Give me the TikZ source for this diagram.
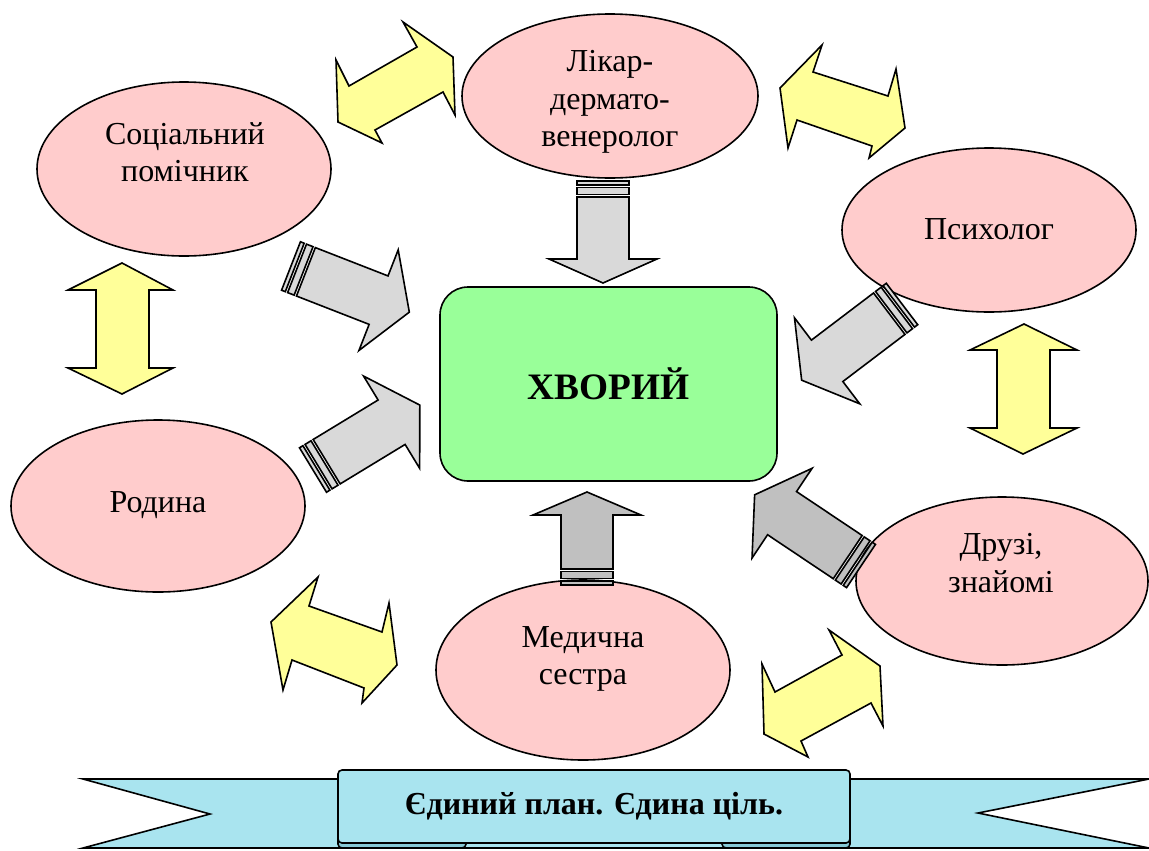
\documentclass[tikz,border=0pt]{standalone}
\usepackage{fontspec}
\setmainfont{Liberation Serif}
\usetikzlibrary{shapes.geometric}

\definecolor{ellpink}{HTML}{FFCCCC}
\definecolor{boxgreen}{HTML}{99FF99}
\definecolor{arrgray}{HTML}{D9D9D9}
\definecolor{arrdark}{HTML}{C0C0C0}
\definecolor{arryellow}{HTML}{FFFF99}
\definecolor{ribbon}{HTML}{A9E4EF}
\definecolor{ribbonfold}{HTML}{86C9D6}

\tikzset{
	% block arrow with two stripes at its tail, pointing along +x
	pics/grayarr/.style 2 args={code={
		\draw[pic actions] (0,-26) rectangle (4,26);
		\draw[pic actions] (6.5,-26) rectangle (13.5,26);
		\draw[pic actions] (16,-26) -- (#1-#2,-26) -- (#1-#2,-54) -- (#1,0)
			-- (#1-#2,54) -- (#1-#2,26) -- (16,26) -- cycle;
	}}
}

\begin{document}
\begin{tikzpicture}[
		x = 0.75pt, y = -0.75pt, % one unit = one pixel of the sketch
		line width = 1.2pt,
		ell/.style 2 args = {ellipse, draw, fill=ellpink, inner sep=0pt,
			minimum width=#1*0.75pt, minimum height=#2*0.75pt},
		lbl/.style = {align=center, font=\fontsize{24}{28}\selectfont},
		garr/.style = {draw, fill=arrgray},
		darr/.style = {draw, fill=arrdark},
		yarr/.style = {draw, fill=arryellow, line join=miter}
		]
		\useasboundingbox (0,0) rectangle (1149,850);

		% people around the patient
		\node[ell={296}{164}] (likar) at (610,96) {};
		\node[ell={294}{174}] (social) at (184,169) {};
		\node[ell={294}{164}] (psych) at (989,230) {};
		\node[ell={294}{172}] (family) at (158,506) {};
		\node[ell={292}{168}] (friends) at (1002,581) {};
		\node[ell={294}{180}] (nurse) at (583,670) {};

		\node[lbl] (likar-t) at (610,102) {Лікар-\\дермато-\\венеролог};
		\node[lbl] (social-t) at (185,152) {Соціальний\\помічник};
		\node[lbl] (psych-t) at (989,229) {Психолог};
		\node[lbl] (family-t) at (158,505) {Родина};
		\node[lbl] (friends-t) at (1001,563) {Друзі,\\знайомі};
		\node[lbl] (nurse-t) at (583,659) {Медична\\сестра};

		% the patient
		\node[draw, fill=boxgreen, rounded corners=21pt,
			minimum width=337*0.75pt, minimum height=194*0.75pt,
			font=\bfseries\fontsize{28}{32}\selectfont] (patient) at (608.5,384) {ХВОРИЙ};

		% arrows towards the patient
		\pic[garr, rotate=-21.3] at (291,266) {grayarr={127}{33}};
		\pic[garr, rotate=-90] at (603,181) {grayarr={102}{24}};
		\pic[garr, rotate=217.2] at (902,304) {grayarr={126}{32}};
		\pic[garr, rotate=31.3] at (313,470) {grayarr={125}{33}};
		\pic[darr, rotate=90] at (587,585) {grayarr={93}{23}};
		\pic[darr, rotate=146.2] at (861,566) {grayarr={128}{33}};

		% two-way arrows between the people
		\draw[yarr] (336,60) -- (349,86) -- (417,47) -- (403,22) -- (453,57)
			-- (455,115) -- (443,92) -- (375,130) -- (382,143) -- (338,122) -- cycle;
		\draw[yarr] (822,45) -- (813,72) -- (888,96) -- (896,69) -- (905,128)
			-- (869,158) -- (872,146) -- (797,120) -- (788,148) -- (780,88) -- cycle;
		\draw[yarr] (122,263) -- (173,290) -- (149,290) -- (149,368) -- (173,368)
			-- (122,394) -- (68,368) -- (96,368) -- (96,290) -- (68,290) -- cycle;
		\draw[yarr] (1024,324) -- (1077,350) -- (1050,350) -- (1050,428) -- (1077,428)
			-- (1023,454) -- (970,428) -- (997,428) -- (997,350) -- (970,350) -- cycle;
		\draw[yarr] (318,577) -- (309,606) -- (382,632) -- (389,603) -- (397,665)
			-- (362,703) -- (364,688) -- (292,660) -- (283,690) -- (271,622) -- cycle;
		\draw[yarr] (762,664) -- (775,692) -- (842,655) -- (829,630) -- (880,666)
			-- (883,726) -- (871,703) -- (801,741) -- (808,757) -- (764,734) -- cycle;

		% ribbon
		\draw[fill=ribbon] (83,779) -- (1149,779) -- (978,813) -- (1149,848)
			-- (83,848) -- (210,814) -- cycle;
		\draw[fill=ribbonfold, rounded corners=3pt] (338,834) rectangle (466,848);
		\draw[fill=ribbonfold, rounded corners=3pt] (722,834) rectangle (850,848);
		\node[draw, fill=ribbon, rounded corners=3pt,
			minimum width=512*0.75pt, minimum height=73*0.75pt,
			font=\bfseries\fontsize{24}{28}\selectfont] (motto) at (594,806.5) {Єдиний план. Єдина ціль.};
\end{tikzpicture}
\end{document}
